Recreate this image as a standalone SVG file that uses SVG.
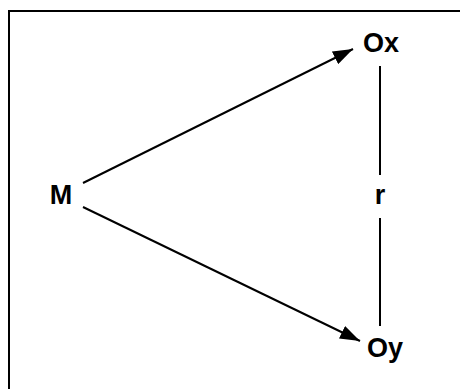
<svg xmlns="http://www.w3.org/2000/svg" width="460" height="389" viewBox="0 0 460 389">
<defs>
<style>
.lbl{font-family:"Liberation Sans",Arial,sans-serif;font-weight:bold;font-size:27px;fill:#000}
.ln{stroke:#000;stroke-width:2;fill:none}
</style>
<marker id="ah" viewBox="0 0 20 14" refX="20" refY="7" markerWidth="20" markerHeight="14" markerUnits="userSpaceOnUse" orient="auto">
<path d="M0,0 L20,7 L0,14 Z" fill="#000"/>
</marker>
</defs>
<rect x="0" y="0" width="460" height="389" fill="#fff"/>
<path d="M9,389 V11 H460" stroke="#000" stroke-width="2" fill="none"/>
<g id="connectors">
<line class="ln" x1="83" y1="183" x2="353" y2="49" marker-end="url(#ah)"/>
<line class="ln" x1="83" y1="207" x2="360" y2="341" marker-end="url(#ah)"/>
<line class="ln" x1="380" y1="66" x2="380" y2="175"/>
<line class="ln" x1="380" y1="218" x2="380" y2="326"/>
</g>
<g id="M"><text class="lbl" x="61" y="204" text-anchor="middle">M</text></g>
<g id="Ox"><text class="lbl" x="381" y="52" text-anchor="middle">Ox</text></g>
<g id="r"><text class="lbl" x="380" y="204" text-anchor="middle">r</text></g>
<g id="Oy"><text class="lbl" x="385" y="357" text-anchor="middle">Oy</text></g>
</svg>
